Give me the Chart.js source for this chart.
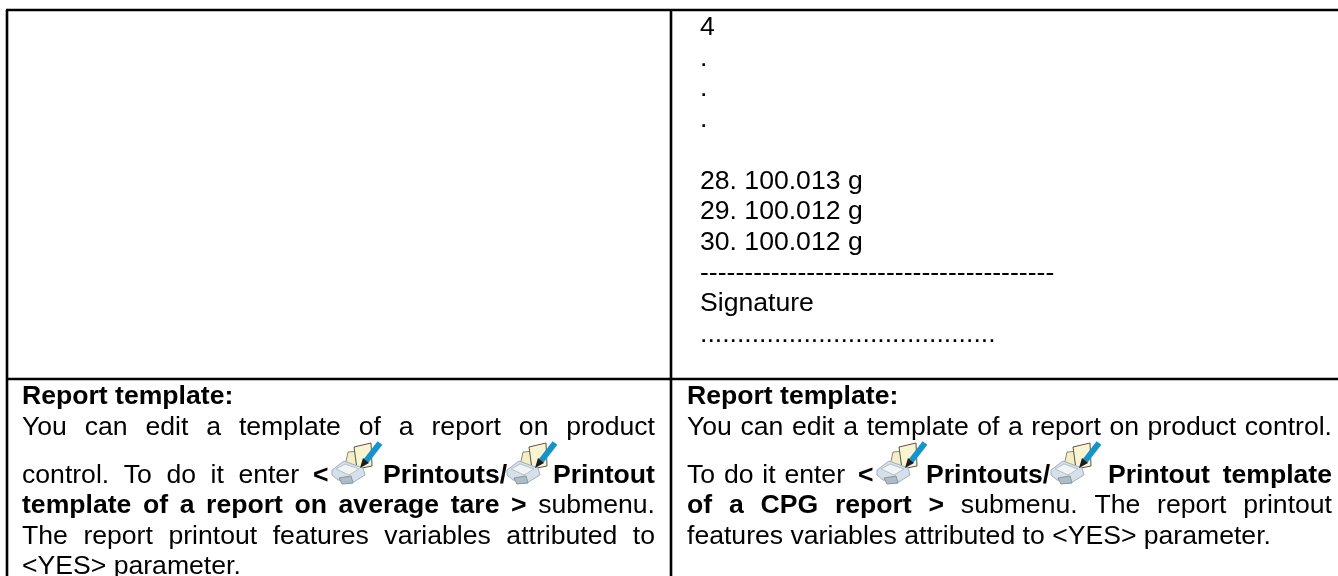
<!DOCTYPE html>
<html lang="en">
<head>
  <meta charset="UTF-8">
  <title>Report template</title>
  <style>
    html, body { margin: 0; padding: 0; background: #fff; overflow: hidden; }
    canvas { display: block; }
  </style>
</head>
<body>
  <canvas id="tabela" width="1338" height="576"></canvas>

  <script src="https://cdn.jsdelivr.net/npm/chart.js"></script>
  <script>
    // text of the page, line by line
    const printoutLines = ['4', '.', '.', '.', '', '28. 100.013 g', '29. 100.012 g', '30. 100.012 g',
      '----------------------------------------', 'Signature', '........................................'];
    const leftHeading = 'Report template:';
    const leftIntro = 'You can edit a template of a report on product';
    const leftMenu = ['control. To do it enter', '<', 'Printouts/', 'Printout'];
    const leftBold = 'template of a report on average tare >';
    const leftAfterBold = 'submenu.';
    const leftBody = ['The report printout features variables attributed to', '<YES> parameter.'];
    const rightHeading = 'Report template:';
    const rightIntro = 'You can edit a template of a report on product control.';
    const rightMenu = ['To do it enter', '<', 'Printouts/', 'Printout template'];
    const rightBold = 'of a CPG report >';
    const rightAfterBold = 'submenu. The report printout';
    const rightBody = ['features variables attributed to <YES> parameter.'];

    // layout
    const FONT = '"Liberation Sans", Arial, sans-serif';
    const SIZE = 26.6;
    const COL_L = { x: 22, end: 655 };
    const COL_R = { x: 687, end: 1332 };
    const PRINTOUT_X = 700, PRINTOUT_Y = 35, PRINTOUT_STEP = 30.7;
    const RULE_TOP = 10, RULE_MID = 379, RULE_LEFT = 7, RULE_CENTER = 671;
    const Y_HEAD = 404, Y_INTRO = 435, Y_MENU = 483, Y_BOLD = 513, Y_BODY = 544, Y_LAST = 574;

    function font(bold) { return (bold ? 'bold ' : '') + SIZE + 'px ' + FONT; }

    // justified run of words, regular and bold mixed
    function justify(ctx, runs, x0, x1, y) {
      const words = [];
      runs.forEach(r => r.text.split(' ').forEach(w => words.push({ w, bold: r.bold })));
      let total = 0;
      words.forEach(o => { ctx.font = font(o.bold); o.width = ctx.measureText(o.w).width; total += o.width; });
      const gap = (x1 - x0 - total) / (words.length - 1);
      let x = x0;
      words.forEach(o => {
        ctx.font = font(o.bold);
        ctx.fillText(o.w, x, y);
        x += o.width + gap;
      });
    }

    function plain(ctx, text, x, y, bold) {
      ctx.font = font(bold);
      ctx.fillText(text, x, y);
    }

    function poly(ctx, pts, fill, stroke) {
      ctx.beginPath();
      pts.forEach((p, i) => (i ? ctx.lineTo(p[0], p[1]) : ctx.moveTo(p[0], p[1])));
      ctx.closePath();
      ctx.fillStyle = fill;
      ctx.fill();
      if (stroke) { ctx.strokeStyle = stroke; ctx.stroke(); }
    }

    // printer + pencil icon used in the menu paths
    function icon(ctx, x, y) {
      ctx.save();
      ctx.translate(x, y);
      ctx.lineWidth = 1;
      // sheets behind the printer
      poly(ctx, [[15, 26], [18, 12], [30, 11], [30, 28]], '#f3edc8', '#8a8a70');
      poly(ctx, [[24, 7], [41, 3], [42, 26], [27, 29]], '#fbf4d0', '#55554a');
      // printer
      poly(ctx, [[2, 30], [14, 21], [33, 28], [35, 35], [22, 43], [8, 40], [2, 35]], '#d5e0e8', '#9fb0bc');
      poly(ctx, [[6, 29], [15, 24], [29, 29], [19, 35]], '#f1f5f7', '#b4c2cc');
      poly(ctx, [[9, 38], [21, 36], [23, 43], [12, 44]], '#aebcc7', '#87969f');
      // pencil
      ctx.lineCap = 'butt';
      ctx.strokeStyle = '#1593cc';
      ctx.lineWidth = 6;
      ctx.beginPath(); ctx.moveTo(50, 3); ctx.lineTo(36, 21); ctx.stroke();
      poly(ctx, [[33, 18], [39, 23], [30, 28]], '#1c1c1c');
      ctx.restore();
    }

    // draws the table contents once the rules are on the canvas
    const textPlugin = {
      id: 'tableText',
      afterDatasetsDraw(chart) {
        const ctx = chart.ctx;
        const sx = chart.scales.x, sy = chart.scales.y;
        const px = v => sx.getPixelForValue(v), py = v => sy.getPixelForValue(v);
        ctx.save();
        ctx.fillStyle = '#000';
        ctx.textBaseline = 'alphabetic';

        printoutLines.forEach((t, i) => plain(ctx, t, px(PRINTOUT_X), py(PRINTOUT_Y + i * PRINTOUT_STEP), false));

        // left cell
        plain(ctx, leftHeading, px(COL_L.x), py(Y_HEAD), true);
        justify(ctx, [{ text: leftIntro, bold: false }], px(COL_L.x), px(COL_L.end), py(Y_INTRO));
        justify(ctx, [{ text: leftMenu[0], bold: false }], px(COL_L.x), px(299), py(Y_MENU));
        plain(ctx, leftMenu[1], px(313), py(Y_MENU), true);
        icon(ctx, px(330), py(440));
        plain(ctx, leftMenu[2], px(383), py(Y_MENU), true);
        icon(ctx, px(505), py(440));
        plain(ctx, leftMenu[3], px(COL_L.end) - 102, py(Y_MENU), true);
        justify(ctx, [{ text: leftBold, bold: true }, { text: leftAfterBold, bold: false }], px(COL_L.x), px(COL_L.end), py(Y_BOLD));
        justify(ctx, [{ text: leftBody[0], bold: false }], px(COL_L.x), px(COL_L.end), py(Y_BODY));
        plain(ctx, leftBody[1], px(COL_L.x), py(Y_LAST), false);

        // right cell
        plain(ctx, rightHeading, px(COL_R.x), py(Y_HEAD), true);
        justify(ctx, [{ text: rightIntro, bold: false }], px(COL_R.x), px(COL_R.end), py(Y_INTRO));
        justify(ctx, [{ text: rightMenu[0], bold: false }], px(COL_R.x), px(845), py(Y_MENU));
        plain(ctx, rightMenu[1], px(858), py(Y_MENU), true);
        icon(ctx, px(875), py(440));
        plain(ctx, rightMenu[2], px(926), py(Y_MENU), true);
        icon(ctx, px(1049), py(440));
        justify(ctx, [{ text: rightMenu[3], bold: true }], px(1108), px(COL_R.end), py(Y_MENU));
        justify(ctx, [{ text: rightBold, bold: true }, { text: rightAfterBold, bold: false }], px(COL_R.x), px(COL_R.end), py(Y_BOLD));
        plain(ctx, rightBody[0], px(COL_R.x), py(Y_BODY), false);
        ctx.restore();
      }
    };

    function rule(x0, y0, x1, y1) {
      return { data: [{ x: x0, y: y0 }, { x: x1, y: y1 }], borderColor: '#000', borderWidth: 2.6, pointRadius: 0, showLine: true, fill: false };
    }

    window.onload = function () {
      const ctx = document.getElementById('tabela').getContext('2d');
      new Chart(ctx, {
        type: 'scatter',
        data: {
          datasets: [
            rule(RULE_LEFT - 1, RULE_TOP, 1338, RULE_TOP),
            rule(RULE_LEFT - 1, RULE_MID, 1338, RULE_MID),
            rule(RULE_LEFT, RULE_TOP, RULE_LEFT, 576),
            rule(RULE_CENTER, RULE_TOP, RULE_CENTER, 576)
          ]
        },
        options: {
          responsive: false,
          animation: false,
          layout: { padding: 0 },
          plugins: { legend: { display: false }, tooltip: { enabled: false } },
          scales: {
            x: { type: 'linear', min: 0, max: 1338, display: false },
            y: { type: 'linear', min: 0, max: 576, reverse: true, display: false }
          }
        },
        plugins: [textPlugin]
      });
    };
  </script>
</body>
</html>
